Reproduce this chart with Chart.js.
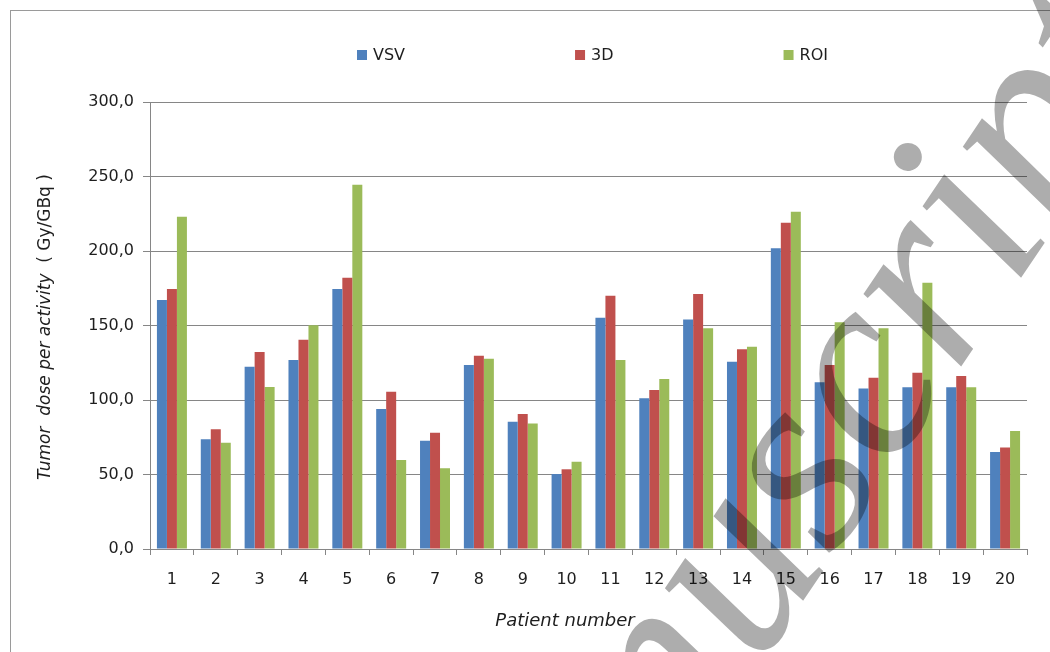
<!DOCTYPE html>
<html>
<head>
<meta charset="utf-8">
<script src="https://cdn.jsdelivr.net/npm/chart.js@4.4.0/dist/chart.umd.min.js"></script>
<style>
  html, body { margin: 0; padding: 0; background: #ffffff; }
  #wrap { width: 1050px; height: 652px; position: relative; }
</style>
</head>
<body>
<div id="wrap"><canvas id="c" width="1050" height="652"></canvas></div>
<script>
// Patients on the x axis
const patients = ['1','2','3','4','5','6','7','8','9','10','11','12','13','14','15','16','17','18','19','20'];
// Series names and their values (Gy/GBq)
const seriesNames = ['VSV', '3D', 'ROI'];
const vsv    = [167.1, 73.6, 122.3, 126.8, 174.5, 94.0, 72.7, 123.5, 85.4, 50.3, 155.2, 101.1, 154.1, 125.7, 201.8, 111.9, 107.8, 108.5, 108.5, 65.1];
const dose3d = [174.5, 80.3, 132.2, 140.5, 182.1, 105.6, 78.1, 129.7, 90.6, 53.5, 170.0, 106.7, 171.1, 134.0, 219.0, 123.5, 115.0, 118.3, 116.1, 68.2];
const roi    = [223.0, 71.3, 108.7, 150.1, 244.5, 59.7, 54.2, 127.7, 84.3, 58.6, 126.8, 114.1, 148.1, 135.8, 226.4, 152.1, 148.1, 178.7, 108.5, 79.2];
// Value axis ticks and their printed labels
const yTicks = [0, 50, 100, 150, 200, 250, 300];
const yTickLabels = ['0,0', '50,0', '100,0', '150,0', '200,0', '250,0', '300,0'];
// Axis titles
const yTitleMain = 'Tumor  dose per activity ';
const yTitleUnit = ' ( Gy/GBq )';
const xTitle = 'Patient number';
const watermarkText = 'Manuscript';

const colors = ['#4F81BD', '#C0504D', '#9BBB59'];
const axisGray = '#868686';
const textColor = '#1e1e1e';
const fontFamily = '"DejaVu Sans", sans-serif';

const decorations = {
  id: 'decorations',
  beforeDraw(chart) {
    const ctx = chart.ctx;
    ctx.save();
    ctx.fillStyle = '#ffffff';
    ctx.fillRect(0, 0, chart.width, chart.height);
    ctx.strokeStyle = '#9a9a9a';
    ctx.lineWidth = 1;
    ctx.strokeRect(10.5, 10.5, chart.width + 20, chart.height + 20);
    ctx.restore();
  },
  afterDraw(chart) {
    const ctx = chart.ctx;
    ctx.save();
    ctx.fillStyle = textColor;

    // legend row
    ctx.font = '16px ' + fontFamily;
    ctx.textBaseline = 'middle';
    ctx.textAlign = 'left';
    let x = 357;
    const ly = 55;
    seriesNames.forEach((name, i) => {
      ctx.fillStyle = colors[i];
      ctx.fillRect(x, ly - 5, 10, 10);
      ctx.fillStyle = textColor;
      ctx.fillText(name, x + 16, ly + 1);
      x += 16 + ctx.measureText(name).width + 170;
    });

    // x axis title
    ctx.font = 'italic 18px ' + fontFamily;
    ctx.textAlign = 'center';
    ctx.fillText(xTitle, 565, 621);

    // y axis title (italic label + upright unit)
    ctx.save();
    ctx.translate(46, 327);
    ctx.rotate(-Math.PI / 2);
    ctx.font = 'italic 17px ' + fontFamily;
    const wMain = ctx.measureText(yTitleMain).width;
    ctx.font = '17px ' + fontFamily;
    const wUnit = ctx.measureText(yTitleUnit).width;
    const start = -(wMain + wUnit) / 2;
    ctx.textAlign = 'left';
    ctx.font = 'italic 17px ' + fontFamily;
    ctx.fillText(yTitleMain, start, 0);
    ctx.font = '17px ' + fontFamily;
    ctx.fillText(yTitleUnit, start + wMain, 0);
    ctx.restore();

    // diagonal watermark over the whole figure
    ctx.save();
    ctx.translate(486, 1071);
    ctx.rotate(-56 * Math.PI / 180);
    ctx.font = 'italic 265px "Liberation Serif", serif';
    ctx.textAlign = 'left';
    ctx.textBaseline = 'alphabetic';
    ctx.fillStyle = 'rgba(0,0,0,0.32)';
    ctx.fillText(watermarkText, 0, 0);
    ctx.restore();

    ctx.restore();
  }
};

new Chart(document.getElementById('c'), {
  type: 'bar',
  data: {
    labels: patients,
    datasets: [vsv, dose3d, roi].map((vals, i) => ({
      label: seriesNames[i],
      data: vals,
      backgroundColor: colors[i],
      borderWidth: 0,
      barPercentage: 1.0,
      categoryPercentage: 0.684
    }))
  },
  options: {
    responsive: false,
    animation: false,
    devicePixelRatio: 1,
    layout: { padding: { left: 10, top: 102, right: 23, bottom: 0 } },
    plugins: { legend: { display: false }, tooltip: { enabled: false } },
    scales: {
      x: {
        grid: { display: true, drawOnChartArea: false, drawTicks: true, tickLength: 6, color: axisGray, offset: true },
        border: { color: axisGray },
        ticks: { font: { family: fontFamily, size: 16 }, color: textColor, padding: 15, maxRotation: 0, autoSkip: false },
        afterFit(s) { s.height = 103; }
      },
      y: {
        min: 0,
        max: 300,
        afterBuildTicks(s) { s.ticks = yTicks.map(v => ({ value: v })); },
        ticks: {
          font: { family: fontFamily, size: 16 },
          color: textColor,
          padding: 9,
          callback: (v) => yTickLabels[yTicks.indexOf(v)]
        },
        grid: { color: axisGray, tickLength: 7 },
        border: { color: axisGray },
        afterFit(s) { s.width = 140; }
      }
    }
  },
  plugins: [decorations]
});
</script>
</body>
</html>
